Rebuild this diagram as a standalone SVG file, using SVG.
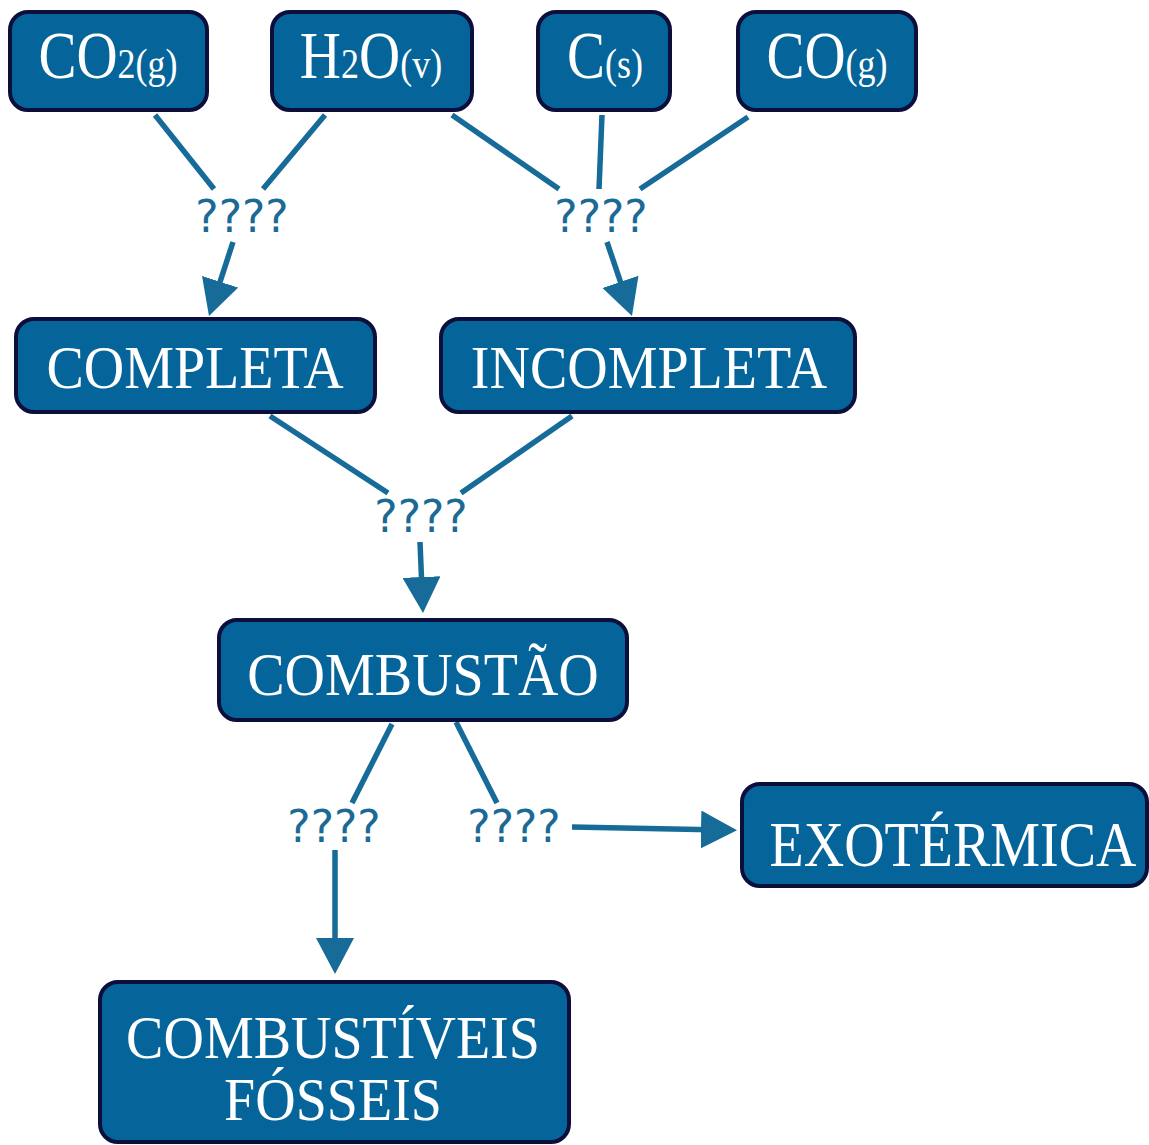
<svg xmlns="http://www.w3.org/2000/svg" width="1149" height="1145" viewBox="0 0 1149 1145">
  <defs>
    <style>
      .box { fill: #05659a; stroke: #0c0f3c; stroke-width: 4; }
      .lbl { fill: #ffffff; font-family: "Liberation Serif", "Times New Roman", serif; font-size: 56px; text-anchor: middle; }
      .chem { fill: #ffffff; font-family: "Liberation Serif", "Times New Roman", serif; font-size: 57px; text-anchor: middle; }
      .sub { font-size: 36px; }
      .link { fill: #1b6a96; font-family: "DejaVu Sans", "Open Sans", sans-serif; font-size: 44px; text-anchor: middle; }
      .conn { stroke: #176b98; stroke-width: 5.5; fill: none; }
    </style>
    <marker id="head" viewBox="0 0 36 38" refX="22" refY="19" markerWidth="36" markerHeight="38" markerUnits="userSpaceOnUse" orient="auto">
      <path d="M0,0 L36,19 L0,38 Z" fill="#176b98"/>
    </marker>
  </defs>

  <rect width="1149" height="1145" fill="#ffffff"/>

  <!-- connectors -->
  <g id="connectors">
    <line class="conn" x1="155" y1="115" x2="214" y2="189"/>
    <line class="conn" x1="325" y1="115" x2="263" y2="189"/>
    <line class="conn" x1="452" y1="115" x2="559" y2="189"/>
    <line class="conn" x1="602" y1="115" x2="599" y2="189"/>
    <line class="conn" x1="748" y1="117" x2="640" y2="189"/>
    <line class="conn" x1="233" y1="242" x2="213.3" y2="302.7" marker-end="url(#head)"/>
    <line class="conn" x1="607" y1="242" x2="627.5" y2="302.7" marker-end="url(#head)"/>
    <line class="conn" x1="270" y1="416" x2="388" y2="493"/>
    <line class="conn" x1="572" y1="416" x2="461" y2="493"/>
    <line class="conn" x1="420" y1="542" x2="422.4" y2="599" marker-end="url(#head)"/>
    <line class="conn" x1="392" y1="724" x2="352" y2="803"/>
    <line class="conn" x1="456" y1="722" x2="497" y2="803"/>
    <line class="conn" x1="335" y1="850" x2="335" y2="960" marker-end="url(#head)"/>
    <line class="conn" x1="572" y1="827" x2="723" y2="830" marker-end="url(#head)"/>
    <text class="link" x="242" y="232">????</text>
    <text class="link" x="601" y="232">????</text>
    <text class="link" x="421" y="532">????</text>
    <text class="link" x="334" y="842">????</text>
    <text class="link" x="514" y="842">????</text>
  </g>

  <!-- reactant / product species -->
  <g id="co2">
    <rect class="box" x="10" y="12" width="197" height="98" rx="18"/>
    <text class="chem" transform="translate(108,78) scale(1,1.2)">CO<tspan class="sub">2(g)</tspan></text>
  </g>
  <g id="h2o">
    <rect class="box" x="272" y="12" width="200" height="98" rx="18"/>
    <text class="chem" transform="translate(371,78) scale(1,1.2)">H<tspan class="sub">2</tspan>O<tspan class="sub">(v)</tspan></text>
  </g>
  <g id="carbon">
    <rect class="box" x="538" y="12" width="132" height="98" rx="18"/>
    <text class="chem" transform="translate(605,78) scale(1,1.2)">C<tspan class="sub">(s)</tspan></text>
  </g>
  <g id="co">
    <rect class="box" x="738" y="12" width="178" height="98" rx="18"/>
    <text class="chem" transform="translate(827,78) scale(1,1.2)">CO<tspan class="sub">(g)</tspan></text>
  </g>

  <!-- combustion types -->
  <g id="completa">
    <rect class="box" x="16" y="319" width="359" height="93" rx="18"/>
    <text class="lbl" transform="translate(195,388) scale(1,1.08)">COMPLETA</text>
  </g>
  <g id="incompleta">
    <rect class="box" x="441" y="319" width="414" height="93" rx="18"/>
    <text class="lbl" transform="translate(649,388) scale(1,1.08)">INCOMPLETA</text>
  </g>

  <g id="combustao">
    <rect class="box" x="219" y="620" width="408" height="100" rx="18"/>
    <text class="lbl" transform="translate(423,695) scale(1,1.08)">COMBUSTÃO</text>
  </g>

  <g id="exotermica">
    <rect class="box" x="742" y="784" width="405" height="102" rx="18"/>
    <text class="lbl" transform="translate(953,866) scale(1,1.12)">EXOTÉRMICA</text>
  </g>

  <g id="combustiveis">
    <rect class="box" x="100" y="982" width="469" height="160" rx="18"/>
    <text class="lbl" transform="translate(333,1058) scale(1,1.1)">COMBUSTÍVEIS</text>
    <text class="lbl" transform="translate(333,1120) scale(1,1.1)">FÓSSEIS</text>
  </g>
</svg>
